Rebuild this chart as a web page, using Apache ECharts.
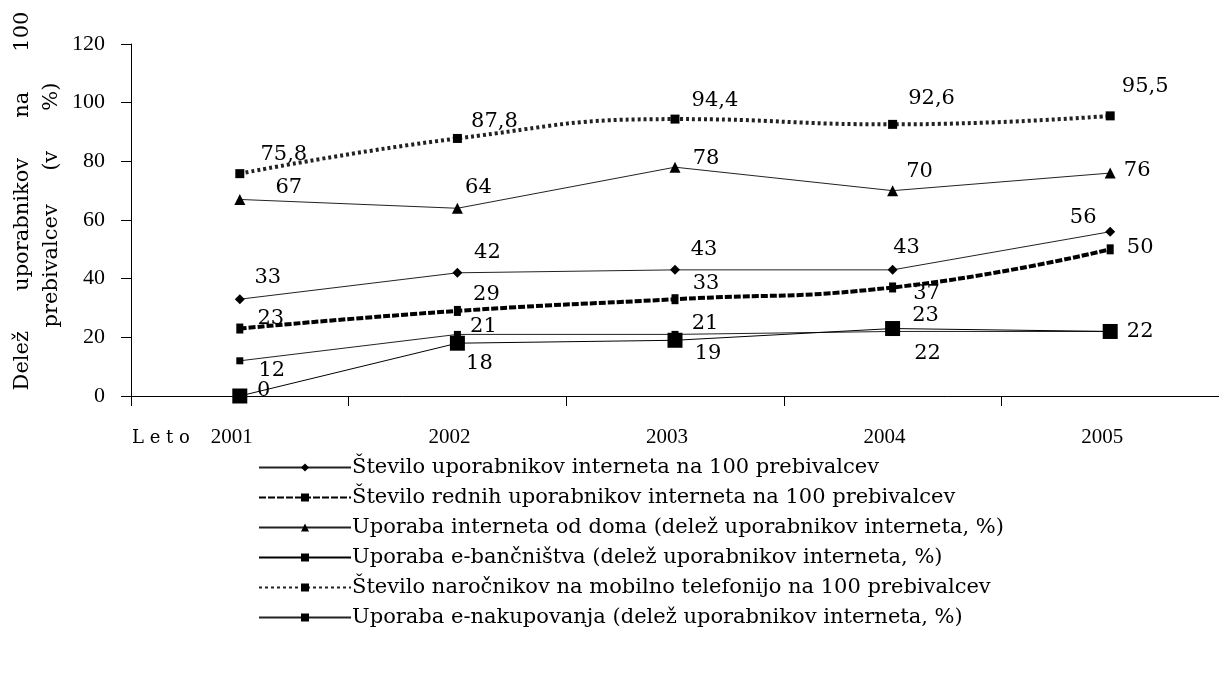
<!DOCTYPE html>
<html>
<head>
<meta charset="utf-8">
<script src="https://cdn.jsdelivr.net/npm/echarts@6/dist/echarts.min.js"></script>
<style>
html, body { margin: 0; padding: 0; background: #fff; }
#chart { width: 1219px; height: 691px; }
</style>
</head>
<body>
<div id="chart"></div>
<script>
var years = ['2001', '2002', '2003', '2004', '2005'];
var uporabniki = [33, 42, 43, 43, 56];
var redni = [23, 29, 33, 37, 50];
var doma = [67, 64, 78, 70, 76];
var ebanka = [0, 18, 19, 23, 22];
var mobilni = [75.8, 87.8, 94.4, 92.6, 95.5];
var enakup = [12, 21, 21, 22, 22];
var yTicks = [0, 20, 40, 60, 80, 100, 120];
var names = [
	'Število uporabnikov interneta na 100 prebivalcev',
	'Število rednih uporabnikov interneta na 100 prebivalcev',
	'Uporaba interneta od doma (delež uporabnikov interneta, %)',
	'Uporaba e-bančništva (delež uporabnikov interneta, %)',
	'Število naročnikov na mobilno telefonijo na 100 prebivalcev',
	'Uporaba e-nakupovanja (delež uporabnikov interneta, %)'
];

var serif = 'DejaVu Serif';
var times = 'Liberation Serif';

// where each value label sits relative to its point
var offUpor = [[28, -22], [30, -20], [29, -20], [14, -22], [-27, -14]];
var offRedni = [[31, -10], [29, -16], [31, -16], [34, 6], [30, -2]];
var offDoma = [[49, -12], [21, -21], [31, -9], [27, -19], [27, -3]];
var offBanka = [[24, -5], [22, 20], [33, 13], [33, -13], [30, 0]];
var offMob = [[44, -19], [37, -17], [40, -19], [39, -26], [35, -29]];
var offNakup = [[32, 10], [26, -8], [30, -11], [35, 22], null];

function points(vals, offs) {
	return vals.map(function(v, i) {
		if (!offs[i]) return { value: v, label: { show: false } };
		return { value: v, label: { offset: offs[i] } };
	});
}

var lbl = {
	show: true,
	position: 'inside',
	color: '#000',
	fontFamily: serif,
	fontSize: 21,
	formatter: function(p) {
		return String(p.value).replace('.', ',');
	}
};

function line(name, vals, offs, symbol, size, lineStyle, smooth, z) {
	return {
		name: name,
		type: 'line',
		data: points(vals, offs),
		symbol: symbol,
		symbolSize: size,
		showAllSymbol: true,
		smooth: smooth,
		z: z,
		itemStyle: { color: '#000' },
		lineStyle: lineStyle,
		label: lbl,
		emphasis: { disabled: true }
	};
}

var myChart = echarts.init(document.getElementById('chart'));
var option = {
	animation: false,
	backgroundColor: '#fff',
	grid: {
		left: 131,
		right: 0,
		top: 44,
		bottom: 295
	},
	legend: {
		orient: 'vertical',
		left: 253,
		top: 452,
		itemWidth: 92,
		itemHeight: 10,
		itemGap: 9,
		textStyle: {
			fontFamily: serif,
			fontSize: 21,
			lineHeight: 21,
			color: '#000',
			padding: [0, 0, 0, -4]
		},
		data: names
	},
	xAxis: {
		type: 'category',
		data: years,
		boundaryGap: true,
		axisLine: { lineStyle: { color: '#000', width: 1 } },
		axisTick: { show: true, length: 10, lineStyle: { color: '#000' } },
		axisLabel: {
			margin: 31,
			color: '#000',
			fontFamily: times,
			fontSize: 21,
			padding: [0, 16, 0, 0]
		},
		splitLine: { show: false }
	},
	yAxis: {
		type: 'value',
		min: yTicks[0],
		max: yTicks[yTicks.length - 1],
		interval: yTicks[1] - yTicks[0],
		axisLine: { show: true, lineStyle: { color: '#000', width: 1 } },
		axisTick: { show: true, length: 10, lineStyle: { color: '#000' } },
		axisLabel: {
			margin: 26,
			color: '#000',
			fontFamily: times,
			fontSize: 22
		},
		splitLine: { show: false }
	},
	graphic: [{
		type: 'text',
		x: 23,
		y: 201,
		rotation: Math.PI / 2,
		style: {
			text: 'Delež      uporabnikov      na      100',
			fontFamily: serif,
			fontSize: 21,
			fill: '#000',
			align: 'center',
			verticalAlign: 'middle'
		}
	}, {
		type: 'text',
		x: 52,
		y: 205,
		rotation: Math.PI / 2,
		style: {
			text: 'prebivalcev     (v      %)',
			fontFamily: serif,
			fontSize: 21,
			fill: '#000',
			align: 'center',
			verticalAlign: 'middle'
		}
	}, {
		type: 'text',
		x: 132,
		y: 438,
		style: {
			text: 'L e t o',
			fontFamily: serif,
			fontSize: 18,
			fill: '#000',
			align: 'left',
			verticalAlign: 'middle'
		}
	}],
	series: [
		line(names[0], uporabniki, offUpor, 'diamond', 10, { color: '#222', width: 1 }, false, 3),
		line(names[1], redni, offRedni, 'rect', [7, 10], { color: '#000', width: 4, type: [7, 2] }, true, 4),
		line(names[2], doma, offDoma, 'triangle', 11, { color: '#222', width: 1 }, false, 3),
		line(names[3], ebanka, offBanka, 'rect', 15, { color: '#000', width: 1 }, false, 6),
		line(names[4], mobilni, offMob, 'rect', 9, { color: '#222', width: 4, type: [3, 3] }, true, 4),
		line(names[5], enakup, offNakup, 'rect', 7, { color: '#222', width: 1 }, false, 5)
	]
};
myChart.setOption(option);
</script>
</body>
</html>
